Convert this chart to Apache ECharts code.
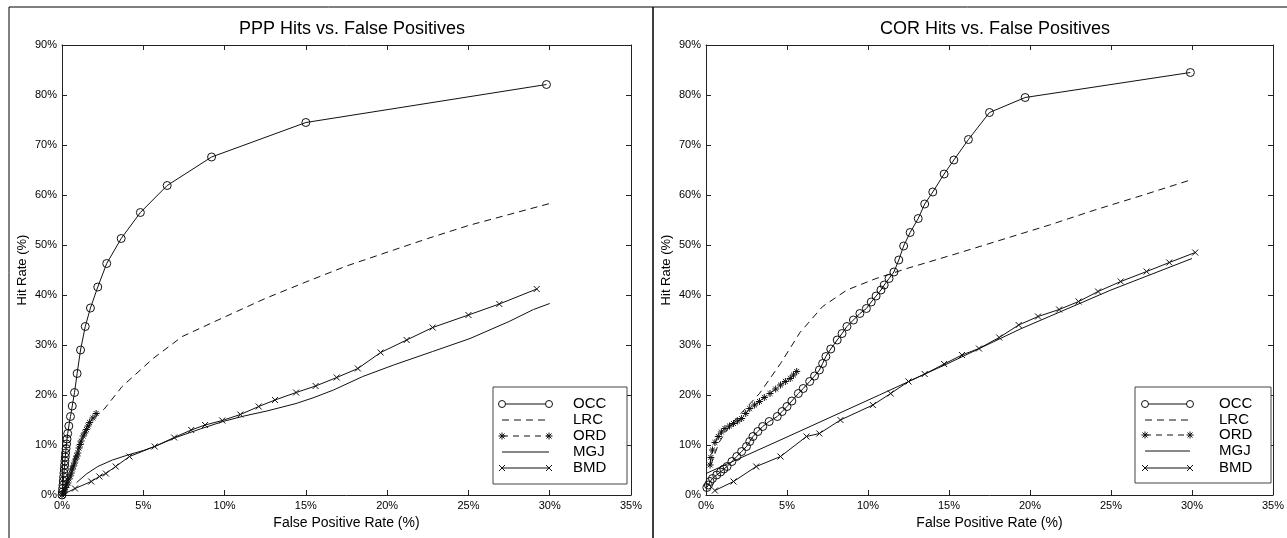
<!DOCTYPE html>
<html>
<head>
<meta charset="utf-8">
<script src="https://cdn.jsdelivr.net/npm/echarts@6/dist/echarts.min.js"></script>
<style>
  html, body { margin: 0; padding: 0; background: #fff; }
  #chart { width: 1287px; height: 538px; }
</style>
</head>
<body>
<div id="chart"></div>
<script>
// axis ranges (percent)
const xMax = 35, xStep = 5;
const yMax = 90, yStep = 10;
const seriesNames = ['OCC', 'LRC', 'ORD', 'MGJ', 'BMD'];

// PPP panel: [false positive %, hit %]
const pppOCC = [[0,0],[0.02,0.6],[0.04,1.3],[0.06,2.0],[0.08,2.8],[0.1,3.6],[0.12,4.4],[0.14,5.2],[0.16,6.0],[0.18,6.8],[0.2,7.6],[0.22,8.4],[0.25,9.3],[0.28,10.2],[0.31,11.2],[0.35,12.3],[0.42,13.8],[0.52,15.7],[0.63,17.8],[0.77,20.5],[0.93,24.3],[1.14,29.0],[1.43,33.7],[1.75,37.4],[2.2,41.6],[2.75,46.3],[3.64,51.3],[4.82,56.5],[6.47,61.9],[9.2,67.6],[15.0,74.5],[29.8,82.1]];
const pppLRC = [[0,0],[0.4,4],[0.8,7.8],[1.2,11],[1.7,14],[2.2,16.2],[2.6,17.2],[3.7,21.7],[5.6,27.3],[7.4,31.7],[10,35.6],[12.5,39.3],[15,42.6],[17.5,45.8],[20.4,49],[22.5,51.3],[25,53.9],[27.5,56.1],[30,58.3]];
const pppORD = [[0,0],[0.08,0.4],[0.15,0.8],[0.22,1.5],[0.3,2],[0.36,2.4],[0.43,3.2],[0.5,3.8],[0.57,4.4],[0.64,5.2],[0.7,5.8],[0.77,6.4],[0.85,7.2],[0.92,7.8],[0.97,8.4],[1.05,9.4],[1.12,10.1],[1.18,10.8],[1.3,11.8],[1.4,12.4],[1.5,13.1],[1.6,13.8],[1.7,14.5],[1.9,15.4],[2.1,16.3]];
const pppMGJ = [[0.9,2.5],[1.5,4.2],[2.2,5.7],[3.1,7.0],[4.05,8.0],[5.0,8.9],[5.7,9.7],[7.0,11.5],[8.5,13.2],[9.9,14.7],[11.2,15.8],[12.6,16.8],[14.4,18.3],[15.5,19.5],[16.7,21.0],[18.5,23.7],[20.4,26],[22.8,28.7],[25.1,31.3],[27.5,34.7],[29.0,37.1],[30.0,38.3]];
const pppBMD = [[0,0],[0.8,1.3],[1.8,2.7],[2.3,3.7],[2.7,4.3],[3.3,5.7],[4.15,7.7],[5.7,9.7],[6.9,11.5],[7.95,13],[8.8,14],[9.86,14.9],[10.97,16.1],[12.1,17.7],[13.1,19],[14.4,20.5],[15.6,21.8],[16.9,23.5],[18.2,25.3],[19.6,28.5],[21.2,31],[22.8,33.5],[25.0,36],[26.9,38.2],[29.2,41.2]];

// COR panel
const corOCC = [[0.05,1.5],[0.15,2],[0.25,2.7],[0.4,3.3],[0.66,4],[0.9,4.6],[1.1,5.2],[1.3,5.7],[1.6,6.7],[1.9,7.7],[2.2,8.7],[2.5,9.7],[2.7,10.7],[2.9,11.7],[3.2,12.7],[3.5,13.7],[3.9,14.7],[4.4,15.7],[4.7,16.7],[5.0,17.7],[5.3,18.8],[5.7,20.3],[6.0,21.3],[6.4,22.7],[6.7,23.8],[7.0,25],[7.2,26.3],[7.4,27.7],[7.7,29.2],[8.1,31],[8.4,32.3],[8.7,33.7],[9.1,35],[9.5,36.3],[9.9,37.3],[10.2,38.6],[10.5,39.8],[10.8,41],[11.0,42],[11.3,43.3],[11.6,44.6],[11.9,47],[12.2,49.8],[12.6,52.5],[13.1,55.3],[13.5,58.2],[14.0,60.6],[14.7,64.2],[15.3,67],[16.2,71.1],[17.5,76.5],[19.7,79.5],[29.9,84.5]];
const corLRC = [[0.3,6],[0.8,10.5],[1.5,14],[2.5,17.5],[3.3,20.3],[4.6,26.3],[5.8,32.5],[7.2,37.7],[8.7,41],[10.5,43.3],[12.4,45.3],[15.5,48.3],[18.5,51.3],[21.2,54],[24,57],[27,60],[29.9,63]];
const corORD = [[0.25,6],[0.3,7.5],[0.4,9],[0.55,10.5],[0.76,11.7],[0.95,12.6],[1.17,13.3],[1.45,13.8],[1.7,14.3],[1.95,14.8],[2.2,15.3],[2.45,16.3],[2.7,17.3],[3.0,18],[3.3,18.7],[3.6,19.5],[3.95,20.3],[4.3,21.2],[4.6,22],[4.9,22.7],[5.2,23.3],[5.4,24],[5.6,24.7]];
const corMGJ = [[0,4.3],[5,11.6],[10.7,20],[15,26.4],[19.4,33.2],[25,41],[30,47.3]];
const corBMD = [[0.55,0.9],[1.7,2.7],[3.1,5.7],[4.6,7.7],[6.2,11.7],[7.0,12.3],[8.3,15],[10.3,18],[11.4,20.3],[12.5,22.7],[13.5,24.2],[14.7,26.2],[15.8,28],[16.85,29.3],[18.1,31.5],[19.3,34],[20.5,35.7],[21.8,37.1],[23,38.7],[24.2,40.7],[25.6,42.7],[27.2,44.7],[28.6,46.5],[30.2,48.5]];

const FONT = "'Liberation Sans', Arial, sans-serif";
const INK = '#111';
const STAR = 'path://M5,0L5,10M0,5L10,5M1.5,1.5L8.5,8.5M8.5,1.5L1.5,8.5';
const CROSS = 'path://M0,0L10,10M10,0L0,10';

const styles = {
  OCC: { symbol: 'circle', symbolSize: 8, dash: 'solid' },
  LRC: { symbol: 'none', symbolSize: 0, dash: [7, 5] },
  ORD: { symbol: STAR, symbolSize: 7, dash: [6, 5] },
  MGJ: { symbol: 'none', symbolSize: 0, dash: 'solid' },
  BMD: { symbol: CROSS, symbolSize: 6, dash: 'solid' }
};

function line(name, data, idx) {
  const s = styles[name];
  return {
    name: name, type: 'line', data: data,
    xAxisIndex: idx * 2, yAxisIndex: idx * 2,
    symbol: s.symbol, symbolSize: s.symbolSize, showSymbol: s.symbol !== 'none',
    itemStyle: { color: 'rgba(0,0,0,0)', borderColor: INK, borderWidth: 1 },
    lineStyle: { color: INK, width: 1, type: s.dash },
    silent: true, animation: false, z: 3
  };
}

const grids = [
  { left: 62, top: 45, width: 569, height: 450 },
  { left: 706, top: 45, width: 568, height: 450 }
];

function axes(i) {
  const base = { min: 0, type: 'value', gridIndex: i, splitLine: { show: false },
    axisLine: { onZero: false, lineStyle: { color: '#222', width: 1 } },
    axisTick: { inside: true, length: 5, lineStyle: { color: '#222' } } };
  const lab = { color: '#000', fontFamily: FONT, fontSize: 11, formatter: '{value}%' };
  const x = [
    Object.assign({}, base, { position: 'bottom', max: xMax, interval: xStep,
      axisLabel: Object.assign({ margin: 5 }, lab),
      name: 'False Positive Rate (%)', nameLocation: 'middle', nameGap: 19,
      nameTextStyle: { color: '#000', fontFamily: FONT, fontSize: 14 } }),
    Object.assign({}, base, { position: 'top', max: xMax, interval: xStep, axisLabel: { show: false } })
  ];
  const y = [
    Object.assign({}, base, { position: 'left', max: yMax, interval: yStep,
      axisLabel: Object.assign({ margin: 5 }, lab),
      name: 'Hit Rate (%)', nameLocation: 'middle', nameGap: 33,
      nameTextStyle: { color: '#000', fontFamily: FONT, fontSize: 13 } }),
    Object.assign({}, base, { position: 'right', max: yMax, interval: yStep, axisLabel: { show: false } })
  ];
  return { x, y };
}
const a0 = axes(0), a1 = axes(1);

// legend boxes drawn as graphics (MATLAB style, marker at both ends)
function legendBox(bx, by, bw, bh, sx1, sx2, tx, rows) {
  const els = [{ type: 'rect', shape: { x: bx, y: by, width: bw, height: bh },
    style: { fill: '#fff', stroke: '#444', lineWidth: 1 }, z: 10 }];
  seriesNames.forEach((n, k) => {
    const y = rows[k];
    const dash = styles[n].dash === 'solid' ? null : styles[n].dash;
    els.push({ type: 'line', shape: { x1: sx1, y1: y, x2: sx2, y2: y },
      style: { stroke: INK, lineWidth: 1, lineDash: dash }, z: 11 });
    [sx1, sx2].forEach(mx => {
      if (n === 'OCC') {
        els.push({ type: 'circle', shape: { cx: mx, cy: y, r: 3.5 }, style: { fill: '#fff', stroke: INK, lineWidth: 1 }, z: 12 });
      } else if (n === 'ORD') {
        [[0, -3.5, 0, 3.5], [-3.5, 0, 3.5, 0], [-2.5, -2.5, 2.5, 2.5], [2.5, -2.5, -2.5, 2.5]].forEach(d =>
          els.push({ type: 'line', shape: { x1: mx + d[0], y1: y + d[1], x2: mx + d[2], y2: y + d[3] }, style: { stroke: INK, lineWidth: 1 }, z: 12 }));
      } else if (n === 'BMD') {
        [[-3, -3, 3, 3], [3, -3, -3, 3]].forEach(d =>
          els.push({ type: 'line', shape: { x1: mx + d[0], y1: y + d[1], x2: mx + d[2], y2: y + d[3] }, style: { stroke: INK, lineWidth: 1 }, z: 12 }));
      }
    });
    els.push({ type: 'text', x: tx, y: y, style: { text: n, fill: '#000', font: '15px ' + FONT, textVerticalAlign: 'middle' }, z: 12 });
  });
  return els;
}

// panel frame: outer left/top edges and the divider between the two figures
const frame = [
  { type: 'polyline', shape: { points: [[9, 538], [9, 7], [1287, 7]] }, style: { stroke: '#000', lineWidth: 1, fill: null } },
  { type: 'line', shape: { x1: 653, y1: 7, x2: 653, y2: 538 }, style: { stroke: '#000', lineWidth: 1.5 } }
];

const chart = echarts.init(document.getElementById('chart'));
chart.setOption({
  backgroundColor: '#fff',
  animation: false,
  title: [
    { text: 'PPP Hits vs. False Positives', left: 347, top: 15, textAlign: 'center',
      textStyle: { fontFamily: FONT, fontSize: 18, fontWeight: 'normal', color: '#000' } },
    { text: 'COR Hits vs. False Positives', left: 990, top: 15, textAlign: 'center',
      textStyle: { fontFamily: FONT, fontSize: 18, fontWeight: 'normal', color: '#000' } }
  ],
  grid: grids,
  xAxis: a0.x.concat(a1.x),
  yAxis: a0.y.concat(a1.y),
  series: [
    line('MGJ', pppMGJ, 0), line('BMD', pppBMD, 0), line('LRC', pppLRC, 0), line('ORD', pppORD, 0), line('OCC', pppOCC, 0),
    line('MGJ', corMGJ, 1), line('BMD', corBMD, 1), line('LRC', corLRC, 1), line('ORD', corORD, 1), line('OCC', corOCC, 1)
  ],
  graphic: frame
    .concat(legendBox(493, 387, 134, 97, 502, 549, 573, [404, 420, 436, 452, 468]))
    .concat(legendBox(1135, 387, 136, 96, 1145, 1190, 1219, [404, 420, 435, 451, 468]))
});
</script>
</body>
</html>
